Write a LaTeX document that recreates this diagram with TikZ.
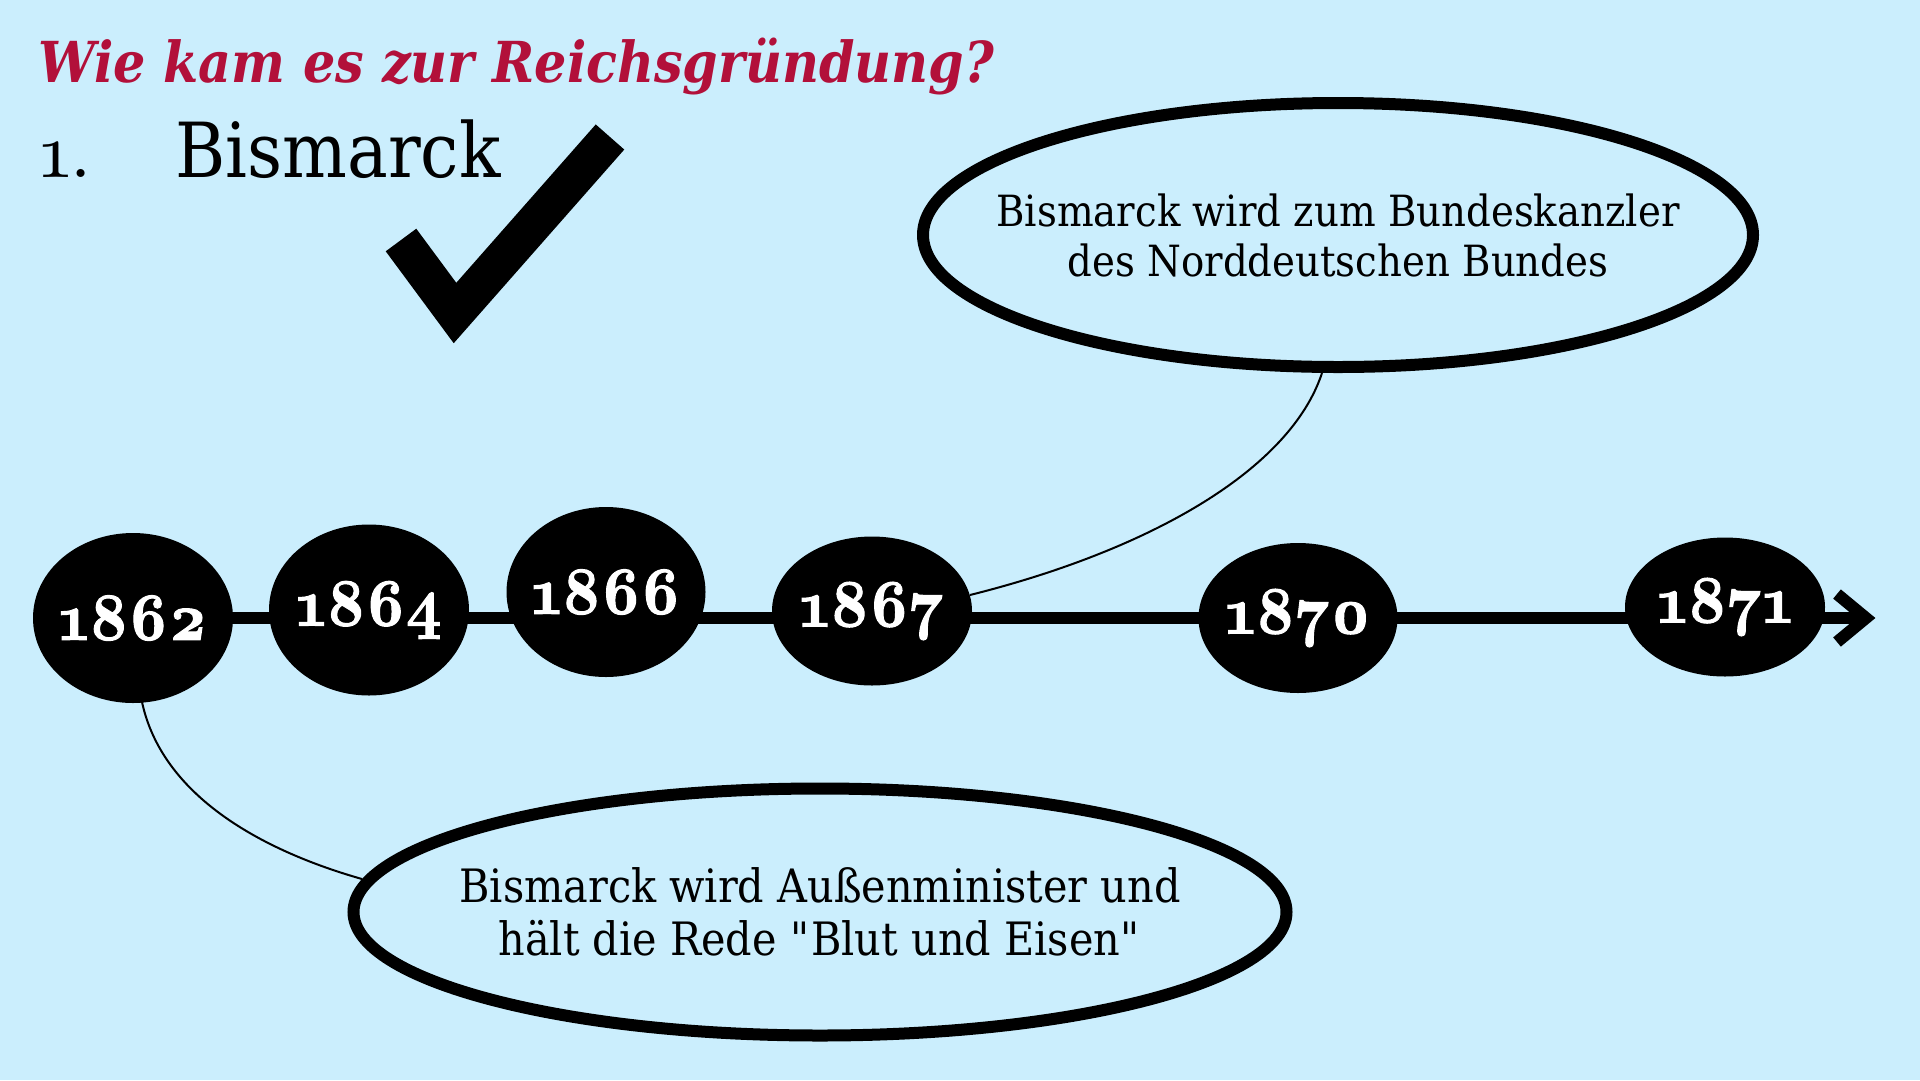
\documentclass[tikz,border=0pt]{standalone}
\usepackage{fontspec}
\setmainfont{DejaVu Serif}[FakeStretch=0.9]
\newfontfamily\yearfont{lmroman10-bold.otf}[Numbers=OldStyle, FakeStretch=0.9, FakeBold=1.5]
\newfontfamily\numfont{lmroman10-regular.otf}[Numbers=OldStyle]
\usetikzlibrary{shapes.geometric,backgrounds,calc}
\definecolor{bgblue}{RGB}{203,238,253}
\definecolor{titlered}{RGB}{178,16,58}
\newcommand{\yearlabel}[1]{\makebox[0pt][c]{#1}}
\tikzset{
  yearnode/.style={ellipse, fill=black, inner sep=0pt, text=white,
    font=\yearfont\fontsize{68}{68}\selectfont},
  bubble/.style={ellipse, draw=black, line width=12pt, inner sep=0pt},
  bubbletext/.style={align=center, inner sep=0pt},
  timeline/.style={line width=12pt, line cap=butt, line join=miter},
  link/.style={line width=2pt},
}
\begin{document}
\begin{tikzpicture}[x=1pt,y=-1pt]
\useasboundingbox (0,0) rectangle (1920,1080);
\begin{pgfonlayer}{background}
\fill[bgblue] (0,0) rectangle (1920,1080);
\end{pgfonlayer}

% title
\node[anchor=base west, inner sep=0pt, text=titlered,
  font=\bfseries\itshape\fontsize{56.5}{56.5}\selectfont] (title) at (38,82) {Wie kam es zur Reichsgründung?};
\node[anchor=base west, inner sep=0pt, font=\numfont\fontsize{76}{76}\selectfont] (num) at (40,177) {1.};
\node[anchor=base west, inner sep=0pt, font=\fontsize{76}{76}\selectfont] (head) at (175,177) {Bismarck};

% check mark
\draw[line width=38pt, line join=miter, line cap=butt] (401,240) -- (455,313) -- (610,137);

% years
\node[yearnode, minimum width=200pt, minimum height=170pt] (y1862) at (133,618) {\yearlabel{1862}};
\node[yearnode, minimum width=200pt, minimum height=171pt] (y1864) at (369,610) {\yearlabel{1864}};
\node[yearnode, minimum width=199pt, minimum height=170pt] (y1866) at (606,592) {\yearlabel{1866}};
\node[yearnode, minimum width=200pt, minimum height=149pt] (y1867) at (872,611) {\yearlabel{1867}};
\node[yearnode, minimum width=199pt, minimum height=150pt] (y1870) at (1298,618) {\yearlabel{1870}};
\node[yearnode, minimum width=200pt, minimum height=139pt] (y1871) at (1725,607) {\yearlabel{1871}};
\coordinate (tip) at (1866,618);

\begin{pgfonlayer}{background}
\draw[timeline] (y1862.center) -- (tip);
\end{pgfonlayer}
\draw[timeline] ($(tip)+(-29,-24)$) -- (tip) -- ($(tip)+(-29,24)$);

% bubbles
\node[bubble, minimum width=830pt, minimum height=264pt] (b1867) at (1338,235) {};
\node[bubbletext, font=\fontsize{43}{50}\selectfont] (t1867) at (b1867.center)
  {Bismarck wird zum Bundeskanzler\\des Norddeutschen Bundes};
\node[bubble, minimum width=933pt, minimum height=247pt] (b1862) at (820,912) {};
\node[bubbletext, font=\fontsize{46}{53}\selectfont] (t1862) at (b1862.center)
  {Bismarck wird Außenminister und\\hält die Rede \textquotedbl Blut und Eisen\textquotedbl};

% connectors
\draw[link] (970,595) .. controls (1150,550) and (1290,470) .. (b1867.south -| 1322,0);
\draw[link] (142,702) .. controls (162,795) and (260,850) .. (362,879);
\end{tikzpicture}
\end{document}
